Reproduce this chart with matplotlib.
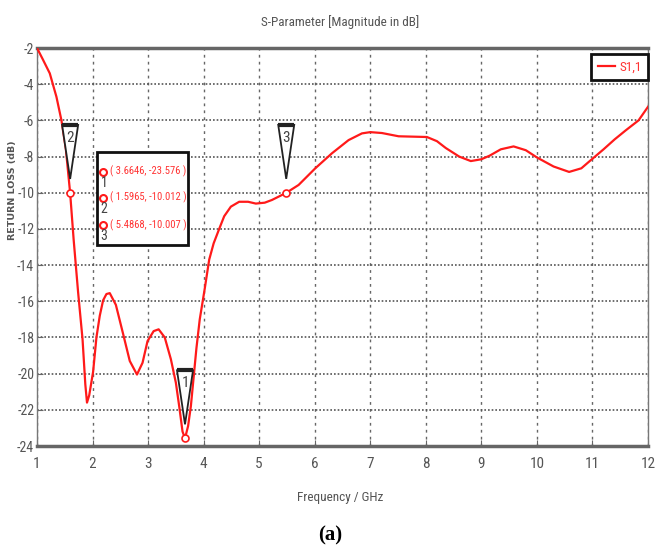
import matplotlib
matplotlib.use('Agg')
import matplotlib.pyplot as plt
import matplotlib.transforms as mtransforms
from matplotlib import font_manager
from matplotlib.patches import Polygon, Rectangle

# S11 curve (GHz, dB)
freq = [1.00, 1.10, 1.23, 1.35, 1.44, 1.52, 1.5965, 1.66, 1.74, 1.82, 1.87, 1.90,
        1.94, 2.01, 2.07, 2.13, 2.19, 2.25, 2.31, 2.42, 2.55, 2.67, 2.80, 2.90,
        2.99, 3.10, 3.19, 3.30, 3.41, 3.50, 3.56, 3.62, 3.6646, 3.72, 3.77, 3.82,
        3.87, 3.93, 4.02, 4.10, 4.18, 4.28, 4.37, 4.49, 4.64, 4.80, 4.94, 5.10,
        5.23, 5.4868, 5.71, 6.01, 6.31, 6.61, 6.85, 7.00, 7.21, 7.51, 8.02, 8.20,
        8.36, 8.60, 8.81, 9.00, 9.15, 9.35, 9.58, 9.80, 10.00, 10.30, 10.58,
        10.80, 10.97, 11.20, 11.40, 11.60, 11.83, 12.00]
s11 = [-2.0, -2.6, -3.4, -4.7, -6.0, -7.6, -10.012, -12.6, -15.5, -18.1, -20.6, -21.6,
       -21.2, -19.9, -18.0, -16.8, -15.95, -15.6, -15.55, -16.2, -17.8, -19.3, -20.05, -19.4,
       -18.2, -17.65, -17.55, -18.0, -19.2, -20.5, -21.8, -23.2, -23.576, -22.9, -21.8, -20.2,
       -18.6, -17.0, -15.3, -13.7, -12.8, -12.0, -11.3, -10.77, -10.5, -10.5, -10.6, -10.55,
       -10.4, -10.007, -9.57, -8.65, -7.82, -7.09, -6.72, -6.65, -6.7, -6.88, -6.92, -7.15,
       -7.53, -8.0, -8.25, -8.15, -7.95, -7.6, -7.44, -7.65, -8.05, -8.55, -8.85,
       -8.65, -8.2, -7.6, -7.05, -6.55, -6.0, -5.25]

marker_ids = ['1', '2', '3']
marker_freq = [3.6646, 1.5965, 5.4868]
marker_val = [-23.576, -10.012, -10.007]

xticks = list(range(1, 13))
yticks = list(range(-24, -1, 2))

# look for a narrow face like the CST plot font
narrow = {'family': 'DejaVu Sans', 'stretch': 'normal'}
shrink = 0.8
names = set((f.name, f.stretch) for f in font_manager.fontManager.ttflist)
for cand in ['Liberation Sans Narrow', 'Roboto Condensed', 'Open Sans Condensed']:
    if any(n == cand for n, s in names):
        narrow = {'family': cand, 'stretch': 'normal'}
        shrink = 1.0
        break
else:
    if ('DejaVu Sans', 'condensed') in names or ('DejaVu Sans', 'semi-condensed') in names:
        narrow = {'family': 'DejaVu Sans', 'stretch': 'condensed'}
        shrink = 0.9

grey = '#555555'


def fs(size):
    return size * shrink


fig = plt.figure(figsize=(6.57, 5.5), dpi=100)
ax = fig.add_axes([37 / 657, 1 - 446 / 550, (648 - 37) / 657, (446 - 48) / 550])

ax.plot(freq, s11, color='#ff1a1a', lw=1.6, label='S1,1', zorder=3)
ax.plot(marker_freq, marker_val, ls='none', marker='o', ms=5, mfc='white',
        mec='#ff1a1a', mew=1.2, zorder=4)

ax.set_xlim(1, 12)
ax.set_ylim(-24, -2)
ax.set_xticks(xticks)
ax.set_yticks(yticks)
ax.set_xticklabels([str(t) for t in xticks], fontsize=fs(11), color=grey, **narrow)
ax.set_yticklabels([str(t) for t in yticks], fontsize=fs(10), color=grey, **narrow)
ax.tick_params(direction='in', length=4, color='#666666', pad=8)
ax.tick_params(axis='y', pad=2)

ax.xaxis.grid(True, ls=(0, (2, 3)), color='#666666', lw=1.0)
ax.yaxis.grid(True, ls=(0, (1, 1.2)), color='#555555', lw=1.2)
for side in ['top', 'bottom']:
    ax.spines[side].set_linewidth(2.5)
    ax.spines[side].set_color('#666666')
for side in ['left', 'right']:
    ax.spines[side].set_linewidth(1.0)
    ax.spines[side].set_color('#777777')

# marker flags (offsets in inches above the marked point)
for mid, mf, mv in zip(marker_ids, marker_freq, marker_val):
    tr = fig.dpi_scale_trans + mtransforms.ScaledTranslation(mf, mv, ax.transData)
    tri = Polygon([(-0.08, 0.68), (0.08, 0.68), (0.0, 0.14)], closed=True,
                  fc='white', ec='#222222', lw=1.3, transform=tr, zorder=5)
    ax.add_patch(tri)
    ax.plot([-0.08, 0.08], [0.68, 0.68], color='#222222', lw=3, transform=tr,
            zorder=6, solid_capstyle='butt')
    ax.text(0.0, 0.55, mid, transform=tr, ha='center', va='center',
            fontsize=fs(11), color='#444444', zorder=7, **narrow)

# marker read-out box
fig.patches.append(Rectangle((97 / 657, 1 - 245 / 550), 91 / 657, 93 / 550,
                             transform=fig.transFigure, fc='white', ec='#111111',
                             lw=2, zorder=5))
row_y = [171.7, 197.7, 225.0]
for i, (mid, mf, mv) in enumerate(zip(marker_ids, marker_freq, marker_val)):
    yy = 1 - row_y[i] / 550
    fig.lines.append(plt.Line2D([102.7 / 657], [yy], marker='o', ms=5, mfc='white',
                                mec='#ff1a1a', mew=1.5, transform=fig.transFigure,
                                zorder=6))
    fig.text(110.5 / 657, yy, '( %.4f, %.3f )' % (mf, mv), fontsize=fs(7.7),
             color='#ff3333', va='center', ha='left', zorder=6, **narrow)
    fig.text(104 / 657, yy - 11 / 550, mid, fontsize=fs(10),
             color='#444444', va='center', ha='center', zorder=6, **narrow)

leg = ax.legend(loc='upper right', bbox_to_anchor=(1.0, 0.985), borderaxespad=0,
                handlelength=1.3, handletextpad=0.3, borderpad=0.5, fancybox=False,
                framealpha=1,
                prop={'family': narrow['family'], 'stretch': narrow['stretch'],
                      'size': fs(9.5)})
leg.get_frame().set_edgecolor('#111111')
leg.get_frame().set_linewidth(2)
for t in leg.get_texts():
    t.set_color('#ff3333')

fig.text(340 / 657, 1 - 22 / 550, 'S-Parameter [Magnitude in dB]',
         fontsize=fs(9.5), color=grey, ha='center', va='center', **narrow)
fig.text(340 / 657, 1 - 498 / 550, 'Frequency / GHz',
         fontsize=fs(9.5), color=grey, ha='center', va='center', **narrow)
fig.text(13 / 657, 1 - 190 / 550, 'RETURN LOSS (dB)', family='DejaVu Sans',
         fontsize=6.8, fontweight='bold', color=grey, rotation=90,
         ha='center', va='center')
fig.text(330 / 657, 1 - 535 / 550, '(a)', family='Liberation Serif', fontsize=15,
         fontweight='bold', color='black', ha='center', va='center')

fig.savefig('out.png', dpi=100)
